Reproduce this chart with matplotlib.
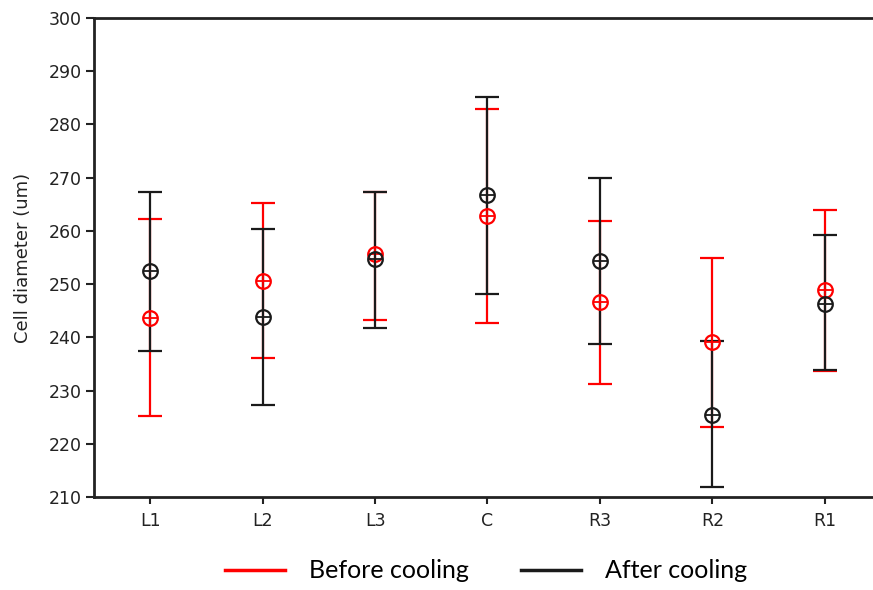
import matplotlib
matplotlib.use("Agg")
import matplotlib.pyplot as plt
from matplotlib.lines import Line2D
import numpy as np

plt.rcParams["font.family"] = "sans-serif"
plt.rcParams["font.sans-serif"] = ["DejaVu Sans"]

categories = ["L1", "L2", "L3", "C", "R3", "R2", "R1"]

before_mean = [243.6, 250.6, 255.6, 262.8, 246.7, 239.1, 248.9]
before_low = [225.3, 236.1, 243.3, 242.7, 231.3, 223.2, 233.7]
before_high = [262.2, 265.3, 267.4, 282.9, 261.9, 254.9, 264.0]

after_mean = [252.4, 243.9, 254.7, 266.7, 254.3, 225.5, 246.3]
after_low = [237.5, 227.2, 241.7, 248.1, 238.8, 211.8, 233.8]
after_high = [267.3, 260.3, 267.3, 285.2, 269.9, 239.3, 259.2]

yticks = [210, 220, 230, 240, 250, 260, 270, 280, 290, 300]

RED = "#ff0000"
BLACK = "#1a1a1a"
TICKFONT = "DejaVu Sans"

fig = plt.figure(figsize=(8.73, 5.90), dpi=100)
ax = fig.add_axes([94 / 873, 1 - 497 / 590, 787 / 873, 479 / 590])

x = np.arange(len(categories))


def draw_bars(mean, low, high, color, z):
    mean = np.array(mean)
    yerr = [mean - np.array(low), np.array(high) - mean]
    ax.errorbar(x, mean, yerr=yerr, fmt="none", ecolor=color, elinewidth=1.6,
                capsize=12 * 72 / 100, capthick=1.6, zorder=z)


def draw_markers(mean, color, z):
    ax.plot(x, mean, linestyle="none", marker="o", markersize=10.5,
            markerfacecolor="none", markeredgecolor=color, markeredgewidth=1.6, zorder=z)
    ax.plot(x, mean, linestyle="none", marker="+", markersize=9.5,
            markeredgecolor=color, markeredgewidth=1.3, zorder=z)


draw_bars(before_mean, before_low, before_high, RED, 2)
draw_bars(after_mean, after_low, after_high, BLACK, 3)
draw_markers(before_mean, RED, 4)
draw_markers(after_mean, BLACK, 5)

ax.set_xlim(-0.5, len(categories) - 0.5)
ax.set_ylim(210, 300)
ax.set_yticks(yticks)
ax.set_yticklabels([str(v) for v in yticks], fontfamily=TICKFONT, fontsize=12.5,
                   color="#222222")
ax.set_xticks(x)
ax.set_xticklabels(categories, fontfamily=TICKFONT, fontsize=12.5, color="#222222")

for s in ["left", "bottom", "top"]:
    ax.spines[s].set_linewidth(2)
    ax.spines[s].set_color("#222222")
ax.spines["right"].set_visible(False)

ax.tick_params(axis="y", direction="out", length=6, width=1.5, pad=3, color="#222222")
ax.tick_params(axis="x", direction="out", length=5, width=1.5, pad=6, color="#222222")

ax.set_ylabel("Cell diameter (um)", fontsize=13, color="#222222", labelpad=12,
              fontfamily=TICKFONT)

handles = [Line2D([], [], color=RED, linewidth=2.5),
           Line2D([], [], color=BLACK, linewidth=2.5)]
fig.legend(handles, ["Before cooling", "After cooling"], loc="center",
           bbox_to_anchor=(486 / 873, 1 - 571 / 590), ncol=2, frameon=False,
           prop={"family": "Lato", "size": 18}, handlelength=2.4,
           handletextpad=0.95, columnspacing=2.1)

fig.savefig("out.png", dpi=100)
